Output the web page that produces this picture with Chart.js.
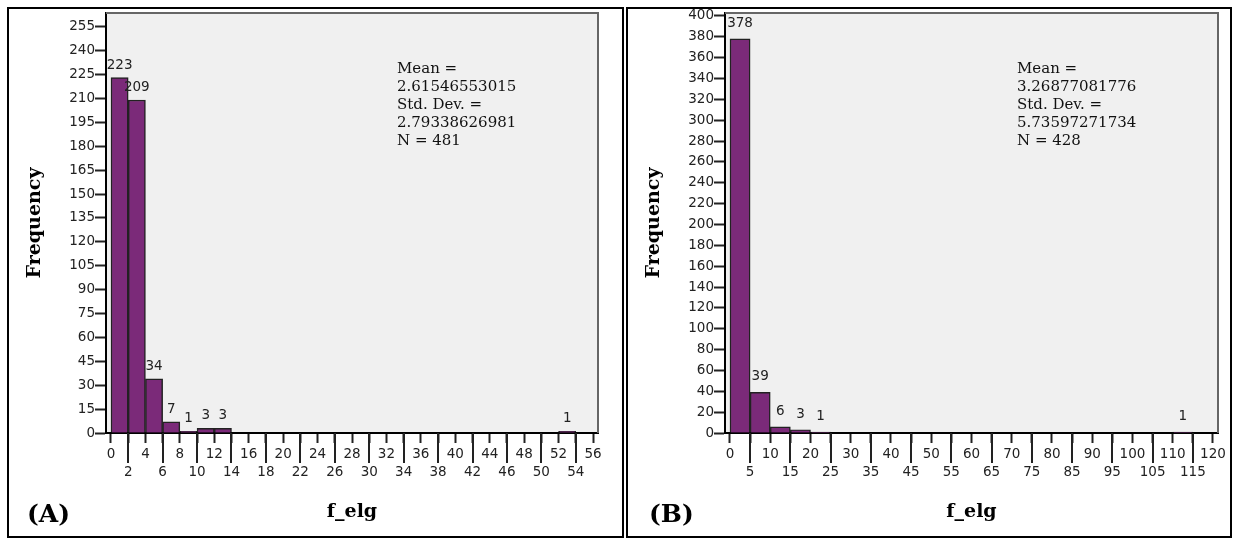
<!DOCTYPE html>
<html>
<head>
<meta charset="utf-8">
<script src="https://cdn.jsdelivr.net/npm/chart.js@4.4.1/dist/chart.umd.min.js"></script>
<style>
  html, body { margin: 0; padding: 0; background: #ffffff; }
  body { width: 1238px; height: 544px; position: relative; overflow: hidden; }
  .panel { position: absolute; top: 7px; height: 531px; box-sizing: border-box; border: 2px solid #000; }
  canvas { position: absolute; top: 9px; }
  .stats { position: absolute; top: 59px; font-family: "DejaVu Serif", serif; font-size: 15px; line-height: 18px; color: #111; white-space: pre; }
  .tag { position: absolute; top: 501px; font-family: "DejaVu Serif", serif; font-weight: bold; font-size: 25px; line-height: 25px; color: #000; }
</style>
</head>
<body>
<div class="panel" style="left:7px; width:617px;"></div>
<div class="panel" style="left:626px; width:606px;"></div>
<canvas id="chartA" width="613" height="527" style="left:9px;"></canvas>
<canvas id="chartB" width="602" height="527" style="left:628px;"></canvas>
<div class="stats" id="statsA" style="left:397px;"></div>
<div class="stats" id="statsB" style="left:1017px;"></div>
<div class="tag" style="left:27px;">(A)</div>
<div class="tag" style="left:649px;">(B)</div>
<script>
// ---------- DATA ----------
const leftBinStart = [0, 2, 4, 6, 8, 10, 12, 52];
const leftCounts   = [223, 209, 34, 7, 1, 3, 3, 1];
const leftBinWidth = 2;
const leftXTicks = [0, 2, 4, 6, 8, 10, 12, 14, 16, 18, 20, 22, 24, 26, 28, 30, 32, 34, 36, 38, 40, 42, 44, 46, 48, 50, 52, 54, 56];
const leftYTicks = [0, 15, 30, 45, 60, 75, 90, 105, 120, 135, 150, 165, 180, 195, 210, 225, 240, 255];
const leftStats = ["Mean =", "2.61546553015", "Std. Dev. =", "2.79338626981", "N = 481"];

const rightBinStart = [0, 5, 10, 15, 20, 110];
const rightCounts   = [378, 39, 6, 3, 1, 1];
const rightBinWidth = 5;
const rightXTicks = [0, 5, 10, 15, 20, 25, 30, 35, 40, 45, 50, 55, 60, 65, 70, 75, 80, 85, 90, 95, 100, 105, 110, 115, 120];
const rightYTicks = [0, 20, 40, 60, 80, 100, 120, 140, 160, 180, 200, 220, 240, 260, 280, 300, 320, 340, 360, 380, 400];
const rightStats = ["Mean =", "3.26877081776", "Std. Dev. =", "5.73597271734", "N = 428"];

const xTitle = "f_elg";
const yTitle = "Frequency";

document.getElementById('statsA').textContent = leftStats.join('\n');
document.getElementById('statsB').textContent = rightStats.join('\n');

const TICK_FONT = { family: "DejaVu Sans", size: 13.5, lineHeight: 1.37 };
const TITLE_FONT = { family: "DejaVu Serif", size: 19, weight: "bold", lineHeight: 1.2 };

const plotFrame = {
  id: 'plotFrame',
  beforeDraw(chart) {
    const { ctx, chartArea: a } = chart;
    ctx.save();
    ctx.fillStyle = '#f0f0f0';
    ctx.fillRect(a.left, a.top, a.right - a.left, a.bottom - a.top);
    ctx.restore();
  },
  afterDraw(chart, args, opts) {
    const { ctx, chartArea: a } = chart;
    ctx.save();
    ctx.strokeStyle = '#666';
    ctx.lineWidth = 2;
    ctx.beginPath();
    ctx.moveTo(a.left, a.top);
    ctx.lineTo(a.right, a.top);
    ctx.lineTo(a.right, a.bottom);
    ctx.stroke();
    // long ticks for alternating (second-row) labels
    const xs = chart.scales.x;
    ctx.strokeStyle = '#222';
    ctx.lineWidth = 2;
    ctx.beginPath();
    xs.ticks.forEach((t, i) => {
      if (i % 2 === 1) {
        const px = Math.round(xs.getPixelForValue(t.value));
        ctx.moveTo(px, xs.top);
        ctx.lineTo(px, xs.top + 30);
      }
    });
    ctx.stroke();
    // value labels above bars
    const meta = chart.getDatasetMeta(0);
    const ds = chart.data.datasets[0];
    ctx.fillStyle = '#222';
    ctx.font = '13.5px "DejaVu Sans"';
    ctx.textAlign = 'center';
    ctx.textBaseline = 'alphabetic';
    meta.data.forEach((bar, i) => {
      ctx.fillText(String(ds.data[i].y), bar.x, bar.y - opts.labelGap);
    });
    ctx.restore();
  }
};

function makeChart(id, binStart, counts, binWidth, xTicks, yTicks, xMin, xMax, yMax, padRight, labelGap) {
  const points = binStart.map((s, i) => ({ x: s + binWidth / 2, y: counts[i] }));
  return new Chart(document.getElementById(id), {
    type: 'bar',
    data: {
      datasets: [{
        data: points,
        backgroundColor: '#7b2a79',
        borderColor: '#222',
        borderWidth: 1.5,
        borderSkipped: 'start',
        barPercentage: 1.0,
        categoryPercentage: 1.0
      }]
    },
    options: {
      responsive: false,
      animation: false,
      devicePixelRatio: 1,
      layout: { padding: { left: 0, right: padRight, top: 4, bottom: 0 } },
      plugins: {
        legend: { display: false },
        tooltip: { enabled: false },
        plotFrame: { labelGap: labelGap }
      },
      scales: {
        x: {
          type: 'linear',
          offset: false,
          min: xMin,
          max: xMax,
          z: 1,
          afterBuildTicks: (s) => { s.ticks = xTicks.map(v => ({ value: v })); },
          afterFit: (s) => { s.height = 103; s.paddingLeft = 0; s.paddingRight = 0; s.paddingTop = 0; s.paddingBottom = 0; },
          border: { display: true, color: '#000', width: 2 },
          grid: { display: true, offset: false, drawOnChartArea: false, drawTicks: true, tickLength: 10, tickColor: '#222', tickWidth: 2 },
          ticks: {
            autoSkip: false, maxRotation: 0, minRotation: 0, padding: 2,
            color: '#222', font: TICK_FONT,
            callback: (v, i) => (i % 2 === 0 ? String(v) : ['', String(v)])
          },
          title: { display: true, text: xTitle, color: '#000', font: TITLE_FONT, padding: { top: 0, bottom: 12.6 } }
        },
        y: {
          type: 'linear',
          min: 0,
          max: yMax,
          z: 1,
          afterBuildTicks: (s) => { s.ticks = yTicks.map(v => ({ value: v })); },
          afterFit: (s) => { s.width = 97; s.paddingLeft = 0; s.paddingRight = 0; s.paddingTop = 0; s.paddingBottom = 0; },
          border: { display: true, color: '#000', width: 2 },
          grid: { display: true, drawOnChartArea: false, drawTicks: true, tickLength: 11, tickColor: '#222', tickWidth: 2 },
          ticks: { autoSkip: false, padding: 0, color: '#222', font: TICK_FONT, callback: (v) => String(v) },
          title: { display: true, text: yTitle, color: '#000', font: TITLE_FONT, padding: { top: 15, bottom: 0 } }
        }
      }
    },
    plugins: [plotFrame]
  });
}

makeChart('chartA', leftBinStart, leftCounts, leftBinWidth, leftXTicks, leftYTicks, -0.58, 56.58, 263.6, 24, 9);
makeChart('chartB', rightBinStart, rightCounts, rightBinWidth, rightXTicks, rightYTicks, -1.24, 121.25, 402.8, 12, 12);
</script>
</body>
</html>
